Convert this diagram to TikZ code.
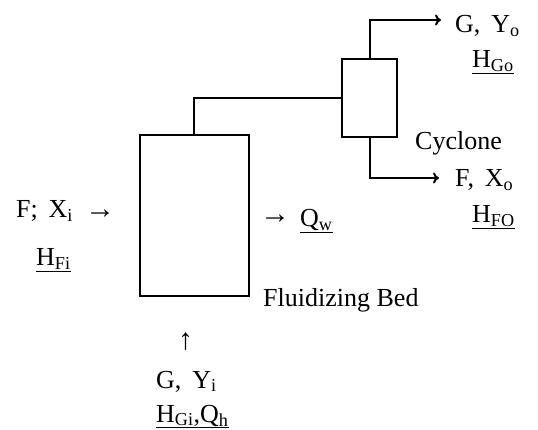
\documentclass[tikz,border=0pt]{standalone}
\usepackage{fontspec}
\setmainfont{Liberation Serif}
\usetikzlibrary{arrows.meta}
\begin{document}
\begin{tikzpicture}[x=1pt,y=-1pt,
  unit/.style={draw,line width=2pt,inner sep=0pt},
  flow/.style={line width=2pt,-{To[length=6pt,width=11pt]}},
  pipe/.style={line width=2pt},
  lbl/.style={inner sep=0pt,anchor=base west,font=\fontsize{26}{30}\selectfont},
  arr/.style={inner sep=0pt,anchor=base west,font=\fontsize{30}{34}\selectfont},
]
\useasboundingbox[fill=white] (0,0) rectangle (538,430);
% units
\node[unit,minimum width=109pt,minimum height=161pt] (bed) at (194,215.5) {};
\node[unit,minimum width=55pt,minimum height=78pt] (cyc) at (369.5,98) {};
% connectors
\draw[pipe] (bed.north) |- (cyc.west);
\coordinate (gout) at (441,20);
\coordinate (fout) at (439,178);
\draw[flow] (cyc.north) |- (gout);
\draw[flow] (cyc.south) |- (fout);
% labels
\node[lbl] (gy) at (455,33) {G,\, Y\textsubscript{o}};
\node[lbl] (hgo) at (472,68) {\underline{H\textsubscript{Go}}};
\node[lbl] (cy) at (415,150) {Cyclone};
\node[lbl] (fx) at (455,187) {F,\, X\textsubscript{o}};
\node[lbl] (hfo) at (472,223) {\underline{H\textsubscript{FO}}};
\node[lbl] (fxi) at (16,218) {F;\, X\textsubscript{i}};
\node[arr] (fxa) at (85,219) {→};
\node[lbl] (hfi) at (36,266) {\underline{H\textsubscript{Fi}}};
\node[arr] (qwa) at (260,224) {→};
\node[lbl] (qw) at (300,227) {\underline{Q\textsubscript{w}}};
\node[lbl] (fb) at (263,307) {Fluidizing Bed};
\node[arr] (up) at (178,349) {↑};
\node[lbl] (gyi) at (156,388) {G,\, Y\textsubscript{i}};
\node[lbl] (hgi) at (156,422) {\underline{H\textsubscript{Gi},Q\textsubscript{h}}};
\end{tikzpicture}
\end{document}
